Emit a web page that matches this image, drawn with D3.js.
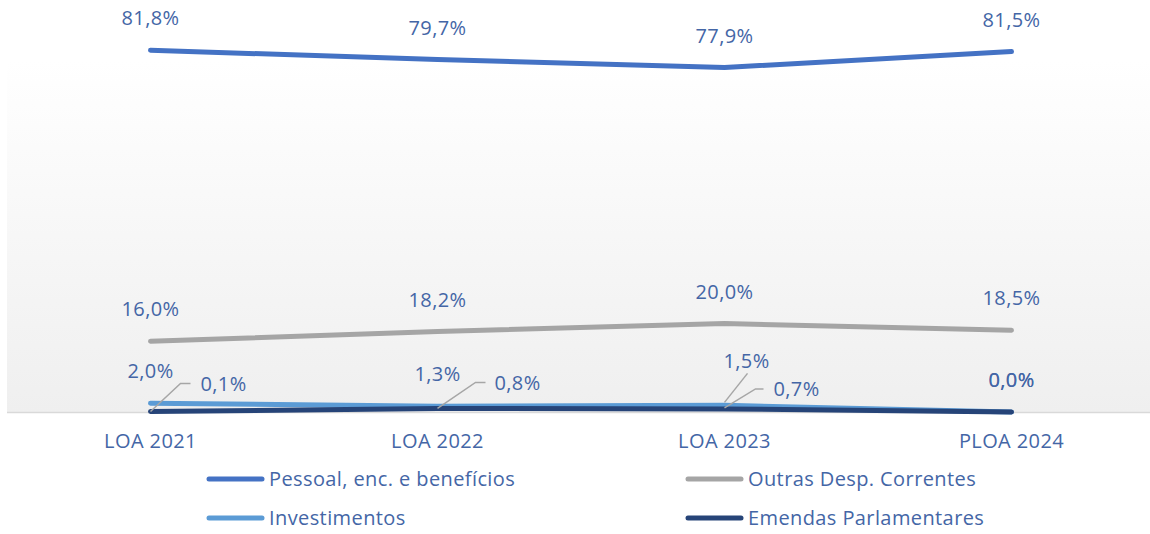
<!DOCTYPE html>
<html>
<head>
<meta charset="utf-8">
<script src="https://cdn.jsdelivr.net/npm/d3@7"></script>
<style>
  body { margin: 0; background: #fff; }
  svg text { font-family: "Open Sans", sans-serif; fill: #4466a6; letter-spacing: 0.4px; }
</style>
</head>
<body>
<div id="chart"></div>
<script>
// categories and series (shares of the budget, %)
const years = ["LOA 2021", "LOA 2022", "LOA 2023", "PLOA 2024"];
const pessoal = [81.8, 79.7, 77.9, 81.5];
const outras = [16.0, 18.2, 20.0, 18.5];
const investimentos = [2.0, 1.3, 1.5, 0.0];
const emendas = [0.1, 0.8, 0.7, 0.0];
const seriesNames = ["Pessoal, enc. e benefícios", "Outras Desp. Correntes", "Investimentos", "Emendas Parlamentares"];

const width = 1150, height = 534;
const colors = ["#4472c4", "#a5a5a5", "#5b9bd5", "#264478"];

// labels that sit off to the side with a leader line (series index, point index) -> [dx, dy]
const leaders = {
  "2-2": { text: [22, -44], line: [[0, -3], [23, -32]] },
  "3-0": { text: [73, -28], line: [[0, 0], [30, -28], [40, -28]] },
  "3-1": { text: [80, -25], line: [[0, 0], [38, -26], [48, -26]] },
  "3-2": { text: [72, -20], line: [[0, -1], [31, -20], [39, -20]] }
};

const series = [pessoal, outras, investimentos, emendas].map((vals, i) => ({
  name: seriesNames[i],
  color: colors[i],
  values: vals.map((v, j) => ({ year: years[j], value: v, key: i + "-" + j }))
}));

const x = d3.scalePoint().domain(years).range([7, 1155]).padding(0.5);
const y = d3.scaleLinear().domain([0, 90]).range([412, 14]);

const svg = d3.select("#chart").append("svg")
  .attr("width", width).attr("height", height);

// plot area background, white fading to light gray
const grad = svg.append("defs").append("linearGradient")
  .attr("id", "bg").attr("x1", 0).attr("y1", 0).attr("x2", 0).attr("y2", 1);
grad.append("stop").attr("offset", 0).attr("stop-color", "#ffffff");
grad.append("stop").attr("offset", 1).attr("stop-color", "#efefef");
svg.append("rect")
  .attr("x", 7).attr("y", 60).attr("width", width - 7).attr("height", 412 - 60)
  .attr("fill", "url(#bg)");

// category axis
svg.append("line")
  .attr("x1", 7).attr("x2", width).attr("y1", 412.5).attr("y2", 412.5)
  .attr("stroke", "#d9d9d9").attr("stroke-width", 1.5);
svg.selectAll(".cat").data(years).join("text")
  .attr("class", "cat")
  .attr("x", d => x(d)).attr("y", 448)
  .attr("text-anchor", "middle").attr("font-size", 20)
  .text(d => d);

const line = d3.line().x(d => x(d.year)).y(d => y(d.value));

svg.selectAll(".series").data(series).join("path")
  .attr("class", "series")
  .attr("fill", "none")
  .attr("stroke", d => d.color)
  .attr("stroke-width", 5)
  .attr("stroke-linecap", "round")
  .attr("stroke-linejoin", "round")
  .attr("d", d => line(d.values));

// leader lines
const allPoints = series.flatMap(s => s.values);
svg.selectAll(".leader").data(allPoints.filter(d => leaders[d.key])).join("path")
  .attr("class", "leader")
  .attr("fill", "none").attr("stroke", "#a6a6a6").attr("stroke-width", 1.5)
  .attr("d", d => d3.line()(leaders[d.key].line.map(([dx, dy]) => [x(d.year) + dx, y(d.value) + dy])));

// data labels
const fmt = v => d3.format(".1f")(v).replace(".", ",") + "%";
svg.selectAll(".lbl").data(allPoints).join("text")
  .attr("class", "lbl")
  .attr("font-size", 20)
  .attr("text-anchor", "middle")
  .attr("x", d => x(d.year) + (leaders[d.key] ? leaders[d.key].text[0] : 0))
  .attr("y", d => y(d.value) + (leaders[d.key] ? leaders[d.key].text[1] : -32) + 7)
  .text(d => fmt(d.value));

// legend, two columns
const legend = svg.selectAll(".leg").data(series).join("g")
  .attr("class", "leg")
  .attr("transform", (d, i) => `translate(${i % 2 ? 688 : 209},${i < 2 ? 479 : 518})`);
legend.append("line")
  .attr("x1", 0).attr("x2", 53)
  .attr("stroke", d => d.color).attr("stroke-width", 5).attr("stroke-linecap", "round");
legend.append("text")
  .attr("x", 60).attr("y", 7).attr("font-size", 20)
  .text(d => d.name);
</script>
</body>
</html>
